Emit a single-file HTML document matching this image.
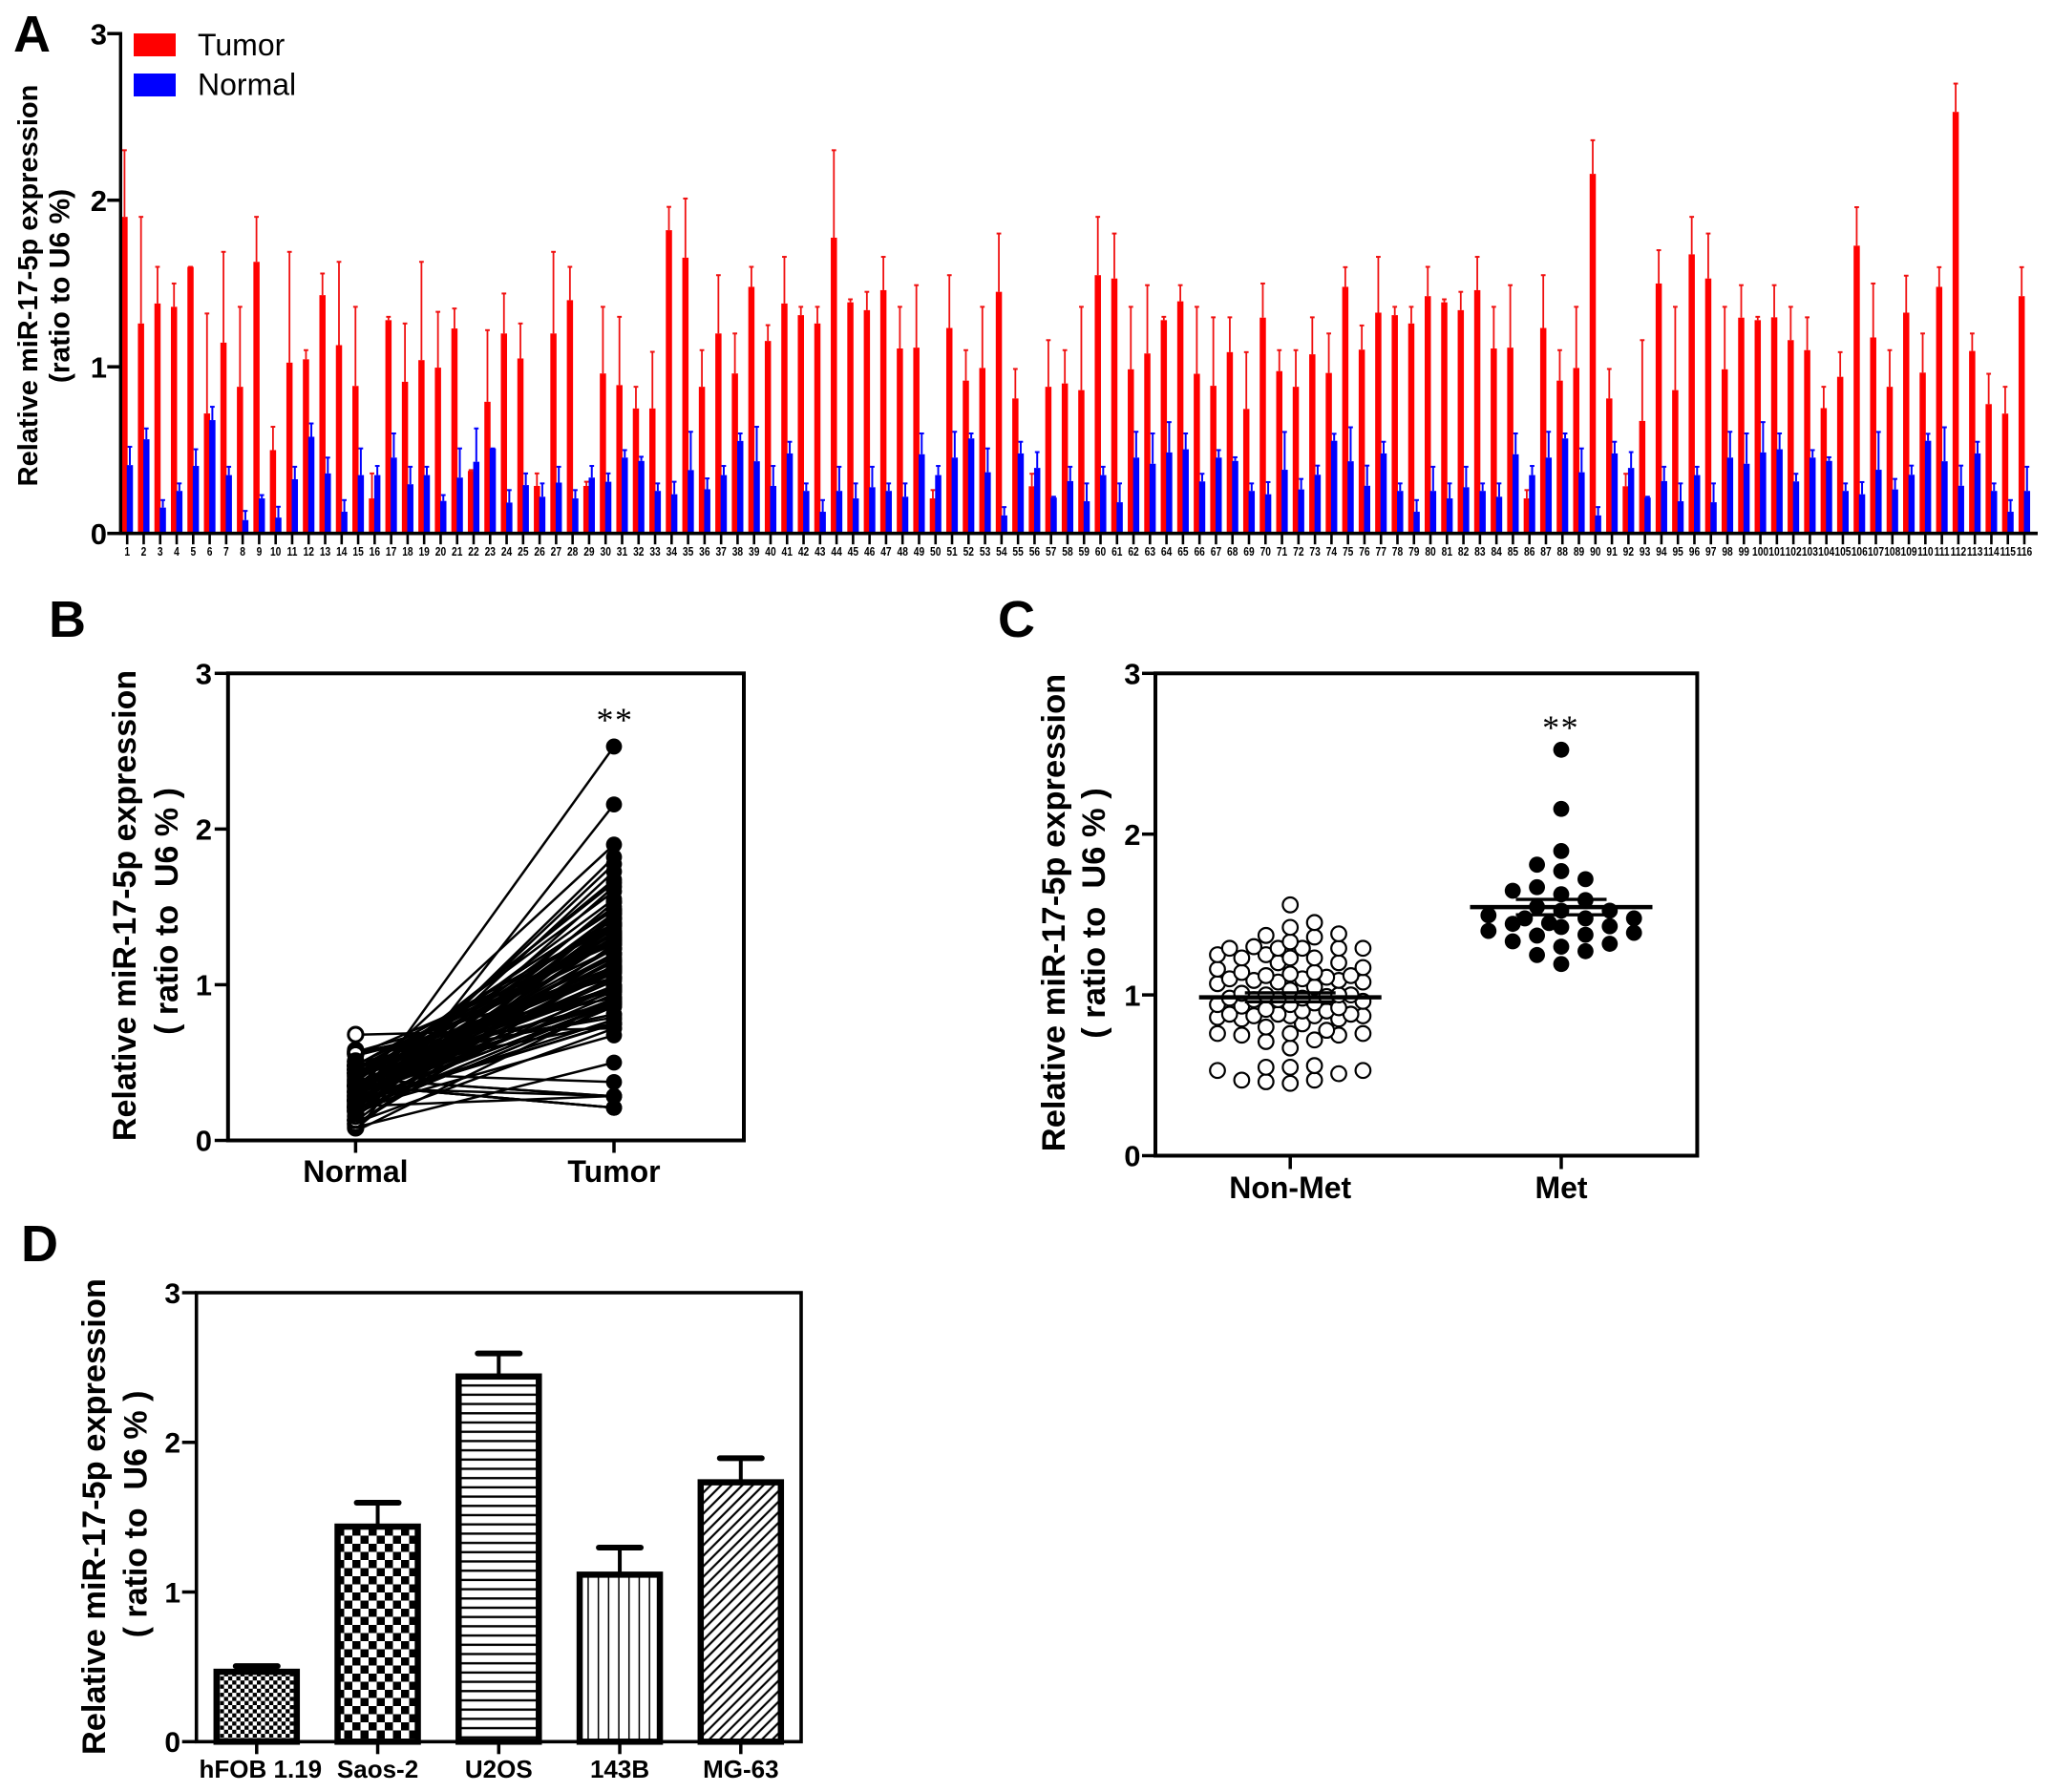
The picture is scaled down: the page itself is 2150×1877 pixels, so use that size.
<!DOCTYPE html>
<html lang="en">
<head>
<meta charset="utf-8">
<title>miR-17-5p expression</title>
<style>
html,body{margin:0;padding:0;background:#fff;width:2150px;height:1877px;overflow:hidden}
svg{display:block}
text{font-family:"Liberation Sans",sans-serif;fill:#000}
.b{font-weight:bold}
.panel{font-weight:bold;font-size:54px}
</style>
</head>
<body>
<svg id="fig" xmlns="http://www.w3.org/2000/svg" width="2150" height="1877" viewBox="0 0 2150 1877">
<defs>
<pattern id="pFine" patternUnits="userSpaceOnUse" x="226" y="1700" width="8.6" height="8.6"><rect width="8.6" height="8.6" fill="#fff"/><rect width="4.3" height="4.3" fill="#000"/><rect x="4.3" y="4.3" width="4.3" height="4.3" fill="#000"/></pattern>
<pattern id="pCheck" patternUnits="userSpaceOnUse" x="352" y="1600" width="17" height="17"><rect width="17" height="17" fill="#fff"/><rect width="8.5" height="8.5" fill="#000"/><rect x="8.5" y="8.5" width="8.5" height="8.5" fill="#000"/></pattern>
<pattern id="pHoriz" patternUnits="userSpaceOnUse" x="0" y="1447" width="10" height="9.7"><rect width="10" height="9.7" fill="#fff"/><rect y="3" width="10" height="2.4" fill="#000"/></pattern>
<pattern id="pVert" patternUnits="userSpaceOnUse" x="606" y="0" width="10.7" height="10"><rect width="10.7" height="10" fill="#fff"/><rect x="9.2" width="2.2" height="10" fill="#000"/></pattern>
<pattern id="pDiag" patternUnits="userSpaceOnUse" x="0" y="0" width="10" height="7.8" patternTransform="rotate(-45)"><rect width="10" height="7.8" fill="#fff"/><rect y="2.8" width="10" height="2.2" fill="#000"/></pattern>
</defs>

<rect width="2150" height="1877" fill="#fff"/>

<text class="panel" x="14" y="54">A</text>
<text class="panel" x="51" y="667">B</text>
<text class="panel" x="1045" y="667">C</text>
<text class="panel" x="22" y="1321">D</text>

<g id="panelA">
<text class="b" font-size="29" text-anchor="middle" transform="translate(39,299) rotate(-90)">Relative miR-17-5p expression</text>
<text class="b" font-size="30" text-anchor="middle" transform="translate(72.5,299.5) rotate(-90)">(ratio to U6 %)</text>
<rect x="140" y="35" width="44" height="24" fill="#ff0000"/>
<text x="207" y="58" font-size="32">Tumor</text>
<rect x="140" y="77" width="44" height="24" fill="#0000ff"/>
<text x="207" y="99.5" font-size="32">Normal</text>
</g>

<g id="panelB">
<text class="b" font-size="34" text-anchor="middle" transform="translate(142,948.5) rotate(-90)">Relative miR-17-5p expression</text>
<text class="b" font-size="34" text-anchor="middle" xml:space="preserve" style="white-space:pre" transform="translate(186,954.5) rotate(-90)">( ratio to  U6 % )</text>
</g>

<g id="panelC">
<text class="b" font-size="34.5" text-anchor="middle" transform="translate(1115,956) rotate(-90)">Relative miR-17-5p expression</text>
<text class="b" font-size="34.5" text-anchor="middle" xml:space="preserve" style="white-space:pre" transform="translate(1157,956.5) rotate(-90)">( ratio to  U6 % )</text>
</g>

<g id="panelD">
<text class="b" font-size="34.4" text-anchor="middle" transform="translate(110,1588.6) rotate(-90)">Relative miR-17-5p expression</text>
<text class="b" font-size="34" text-anchor="middle" xml:space="preserve" style="white-space:pre" transform="translate(153.6,1586) rotate(-90)">( ratio to  U6 % )</text>
</g>
</svg>

<script>
// ---------- Panel A / B data ----------
const tumorMean = [1.90,1.26,1.38,1.36,1.60,.72,1.145,.88,1.63,.50,1.025,1.045,1.43,1.13,.885,.21,1.28,.91,1.04,.995,1.23,.375,.79,1.20,1.05,.285,1.20,1.40,.285,.96,.89,.75,.75,1.82,1.655,
.88,1.20,.96,1.48,1.155,1.38,1.31,1.26,1.775,1.387,1.34,1.46,1.11,1.115,.21,1.233,.917,.993,1.45,.81,.283,.88,.90,.86,1.55,1.53,.985,1.08,1.28,1.393,.958,.886,1.088,.747,1.295,.974,.88,1.075,.963,1.48,1.103,
1.325,1.31,1.26,1.424,1.387,1.34,1.46,1.11,1.115,.21,1.233,.917,.993,2.158,.81,.283,.675,1.50,.86,1.675,1.53,.985,1.295,1.28,1.297,1.16,1.10,.752,.94,1.727,1.176,.88,1.325,.965,1.48,2.53,1.095,.776,.719,1.424];
const tumorUpper = [2.30,1.90,1.60,1.50,1.60,1.32,1.69,1.36,1.90,.64,1.69,1.10,1.56,1.63,1.36,.36,1.30,1.26,1.63,1.33,1.35,.38,1.22,1.44,1.26,.36,1.69,1.60,.31,1.36,1.30,.88,1.09,1.96,2.01,
1.10,1.55,1.20,1.60,1.25,1.66,1.36,1.36,2.30,1.405,1.45,1.66,1.36,1.49,.26,1.55,1.10,1.36,1.80,.987,.358,1.16,1.10,1.36,1.90,1.80,1.36,1.49,1.30,1.49,1.36,1.297,1.297,1.088,1.50,1.10,1.10,1.297,1.20,1.598,1.248,
1.66,1.36,1.36,1.60,1.405,1.45,1.66,1.36,1.49,.26,1.55,1.10,1.36,2.36,.987,.358,1.16,1.70,1.36,1.90,1.80,1.36,1.49,1.30,1.49,1.36,1.297,.88,1.088,1.958,1.50,1.10,1.547,1.20,1.598,2.70,1.20,.958,.88,1.598];
const normalMean = [.41,.565,.155,.255,.405,.68,.35,.08,.21,.095,.325,.58,.36,.13,.35,.35,.455,.295,.35,.195,.335,.43,.51,.185,.29,.22,.305,.21,.335,.31,.455,.435,.255,.235,.38,
.265,.35,.555,.433,.285,.48,.255,.13,.255,.21,.277,.255,.22,.475,.35,.455,.57,.367,.108,.48,.393,.215,.314,.193,.35,.187,.455,.418,.486,.505,.312,.455,.435,.255,.235,.382,.264,.352,.556,.433,.286,
.48,.255,.13,.255,.21,.277,.255,.22,.475,.35,.455,.57,.367,.108,.48,.393,.215,.314,.193,.35,.187,.455,.418,.486,.505,.312,.455,.435,.255,.235,.382,.264,.352,.556,.433,.286,.48,.255,.13,.255];
const normalUpper = [.52,.63,.20,.30,.505,.76,.40,.135,.23,.16,.40,.66,.455,.20,.51,.405,.60,.40,.40,.23,.51,.63,.51,.26,.36,.30,.40,.26,.405,.36,.50,.46,.30,.31,.61,
.33,.405,.60,.64,.405,.55,.30,.20,.40,.30,.40,.30,.30,.60,.405,.61,.60,.51,.158,.55,.488,.22,.40,.30,.40,.30,.61,.60,.668,.60,.358,.50,.457,.30,.308,.609,.327,.407,.598,.637,.407,
.55,.30,.20,.40,.30,.40,.30,.30,.60,.405,.61,.60,.51,.158,.55,.488,.22,.40,.30,.40,.30,.61,.60,.668,.60,.358,.50,.457,.30,.308,.609,.327,.407,.598,.637,.407,.55,.30,.20,.40];
const sampleLabels = Array.from({length: tumorMean.length}, function (_, i) { return String(i + 1); });
const yTicks = [0, 1, 2, 3];

// ---------- Panel B data ----------
const pairedCategories = ['Normal', 'Tumor'];

// ---------- Panel C data ----------
const metCategories = ['Non-Met', 'Met'];
const nonMetValues = [1.56,1.45,1.42,1.38,1.37,1.36,1.33,1.30,1.29,1.29,1.29,1.29,1.29,1.25,1.25,1.23,1.23,1.23,1.20,1.20,1.17,1.16,1.14,1.14,1.13,1.12,1.12,1.11,1.10,1.10,1.09,1.09,1.08,1.08,1.07,1.05,1.03,1.01,1.00,1.00,1.00,.99,.98,.98,.97,.97,.96,.95,.94,.94,.93,.92,.91,.90,.90,.88,.88,.88,.87,.87,.87,.87,.86,.85,.85,.82,.80,.78,.76,.76,.76,.75,.75,.72,.71,.67,.56,.55,.55,.53,.53,.51,.47,.47,.46,.45];
const metValues = [2.525,2.157,1.895,1.81,1.77,1.72,1.67,1.648,1.626,1.59,1.548,1.524,1.524,1.495,1.476,1.476,1.476,1.447,1.442,1.427,1.422,1.398,1.386,1.374,1.369,1.333,1.318,1.30,1.272,1.248,1.192];
const groupMeans = [0.985, 1.546];
const groupSems = [0.028, 0.048];

// ---------- Panel D data ----------
const cellLines = ['hFOB 1.19', 'Saos-2', 'U2OS', '143B', 'MG-63'];
const cellMeans = [0.467, 1.437, 2.44, 1.116, 1.733];
const cellUppers = [0.505, 1.597, 2.594, 1.297, 1.894];
const cellFills = ['pFine', 'pCheck', 'pHoriz', 'pVert', 'pDiag'];

const NS = 'http://www.w3.org/2000/svg';
function mk(tag, attrs, parent) {
  const el = document.createElementNS(NS, tag);
  for (const k in attrs) el.setAttribute(k, attrs[k]);
  parent.appendChild(el);
  return el;
}
function linear(v0, p0, v1, p1) {
  return function (v) { return p0 + (v - v0) * (p1 - p0) / (v1 - v0); };
}
function yAxisTicks(parent, yFn, xAxis, tickLen, anchorX, size, prefix) {
  yTicks.forEach(function (t) {
    const ln = mk('line', {x1: xAxis - tickLen, x2: xAxis, y1: yFn(t), y2: yFn(t), stroke: '#000', 'stroke-width': 3.5}, parent);
    
    
    const tx = mk('text', {x: anchorX, y: yFn(t) + size * 0.36, 'text-anchor': 'end', 'font-size': size, 'class': 'b'}, parent);
    
    
    tx.textContent = String(t);
  });
}
function frame(parent, x, y, w, h, sw, prefix) {
  const r = mk('rect', {x: x, y: y, width: w, height: h, fill: 'none', stroke: '#000', 'stroke-width': sw}, parent);
  
  
}
function xCategory(parent, label, x, yAxis, tickLen, baseline, size, prefix, labelShift) {
  const ln = mk('line', {x1: x, x2: x, y1: yAxis, y2: yAxis + tickLen, stroke: '#000', 'stroke-width': 3.5}, parent);
  
  
  const tx = mk('text', {x: x + (labelShift || 0), y: baseline, 'text-anchor': 'middle', 'font-size': size, 'class': 'b'}, parent);
  
  
  tx.textContent = label;
}
function stars(parent, x, y, prefix) {
  const s = mk('text', {x: x, y: y, 'text-anchor': 'middle', 'font-size': 36, 'letter-spacing': 1.5, style: 'font-family:"Liberation Serif",serif'}, parent);
  
  
  s.textContent = '**';
}

// ---------- Panel A ----------
(function () {
  const g = document.getElementById('panelA');
  const y = linear(0, 558.7, 3, 35.2);
  const x = linear(0, 133.2, 115, 2120);
  const off = 2.8, bw = 6.5;
  sampleLabels.forEach(function (label, i) {
    const cT = x(i) - off;
    const stemT = mk('line', {x1: cT, x2: cT, y1: y(tumorMean[i]), y2: y(tumorUpper[i]), stroke: '#f01010', 'stroke-width': 1.8}, g);
    
    
    const capT = mk('line', {x1: cT - 2.4, x2: cT + 2.4, y1: y(tumorUpper[i]), y2: y(tumorUpper[i]), stroke: '#f01010', 'stroke-width': 2}, g);
    
    
    const barT = mk('rect', {x: cT - bw / 2, y: y(tumorMean[i]), width: bw, height: y(0) - y(tumorMean[i]), fill: '#ff0000'}, g);
    
    
  });
  sampleLabels.forEach(function (label, i) {
    const cN = x(i) + off;
    const stemN = mk('line', {x1: cN, x2: cN, y1: y(normalMean[i]), y2: y(normalUpper[i]), stroke: '#0000ff', 'stroke-width': 2}, g);
    
    
    const capN = mk('line', {x1: cN - 2.4, x2: cN + 2.4, y1: y(normalUpper[i]), y2: y(normalUpper[i]), stroke: '#0000ff', 'stroke-width': 2}, g);
    
    
    const barN = mk('rect', {x: cN - bw / 2, y: y(normalMean[i]), width: bw, height: y(0) - y(normalMean[i]), fill: '#0000ff'}, g);
    
    

    const tick = mk('line', {x1: x(i), x2: x(i), y1: y(0), y2: y(0) + 11.5, stroke: '#000', 'stroke-width': 2.6}, g);
    
    
    const tl = mk('text', {'text-anchor': 'middle', 'font-size': 12.5, 'class': 'b', transform: 'translate(' + x(i) + ',582) scale(0.82,1)'}, g);
    
    
    tl.textContent = label;
  });
  const ya = mk('line', {x1: 126.3, x2: 126.3, y1: 33.5, y2: 560.5, stroke: '#000', 'stroke-width': 3.4}, g);
  
  
  const xa = mk('line', {x1: 124.6, x2: 2134, y1: 558.7, y2: 558.7, stroke: '#000', 'stroke-width': 3.6}, g);
  
  
  yAxisTicks(g, y, 126.3, 14, 112, 31, 'a');
})();

// ---------- Panel B ----------
(function () {
  const g = document.getElementById('panelB');
  const y = linear(0, 1194.5, 3, 705.3);
  const xN = 372.4, xT = 643;
  normalMean.forEach(function (v) {
    const c = mk('circle', {cx: xN, cy: y(v), r: 7.6, fill: 'none', stroke: '#000', 'stroke-width': 3}, g);
    
    
  });
  normalMean.forEach(function (v, i) {
    const l = mk('line', {x1: xN + 7, x2: xT, y1: y(v), y2: y(tumorMean[i]), stroke: '#000', 'stroke-width': 2.5}, g);
    
    
  });
  tumorMean.forEach(function (v) {
    const c = mk('circle', {cx: xT, cy: y(v), r: 8.4, fill: '#000'}, g);
    
    
  });
  frame(g, 238.8, 705.3, 540.2, 489.2, 4, 'b');
  yAxisTicks(g, y, 238.8, 14, 222, 31, 'b');
  xCategory(g, pairedCategories[0], xN, 1194.5, 13, 1238, 32, 'b');
  xCategory(g, pairedCategories[1], xT, 1194.5, 13, 1238, 32, 'b');
  stars(g, 644, 766, 'b');
})();

// ---------- Panel C ----------
function swarm(values, y, cx, step, minDist) {
  const sorted = values.slice().sort(function (a, b) { return a - b; });
  const placed = [];
  const order = [0, 2, -2, 4, -4, 6, -6, 1, -1, 3, -3, 5, -5];
  sorted.forEach(function (v, n) {
    const py = y(v);
    const flip = n % 2 ? -1 : 1;
    let chosen = null, best = null, bestGap = -1;
    for (let k = 0; k < order.length; k++) {
      const px = cx + flip * order[k] * step;
      let gap = Infinity;
      placed.forEach(function (p) {
        gap = Math.min(gap, Math.hypot(p.x - px, p.y - py));
      });
      if (gap > bestGap) { bestGap = gap; best = px; }
      if (gap >= minDist) { chosen = px; break; }
    }
    placed.push({x: chosen === null ? best : chosen, y: py});
  });
  return placed;
}
(function () {
  const g = document.getElementById('panelC');
  const y = linear(0, 1210.5, 3, 705.3);
  const xs = [1351.2, 1635];
  swarm(nonMetValues, y, xs[0], 12.7, 14.5).forEach(function (p) {
    const c = mk('circle', {cx: p.x, cy: p.y, r: 7.8, fill: '#fff', stroke: '#000', 'stroke-width': 2.2}, g);
    
    
  });
  swarm(metValues, y, xs[1], 12.7, 17).forEach(function (p) {
    const c = mk('circle', {cx: p.x, cy: p.y, r: 8.4, fill: '#000'}, g);
    
    
  });
  metCategories.forEach(function (label, i) {
    const m = mk('line', {x1: xs[i] - 95.5, x2: xs[i] + 95.5, y1: y(groupMeans[i]), y2: y(groupMeans[i]), stroke: '#000', 'stroke-width': 4.5}, g);
    
    
    [1, -1].forEach(function (sign) {
      const s = mk('line', {x1: xs[i] - 47.5, x2: xs[i] + 47.5, y1: y(groupMeans[i] + sign * groupSems[i]), y2: y(groupMeans[i] + sign * groupSems[i]), stroke: '#000', 'stroke-width': 3.4}, g);
      
      
    });
    xCategory(g, label, xs[i], 1210.5, 14, 1255, 32, 'c');
  });
  frame(g, 1210, 705.3, 567.4, 505.2, 4, 'c');
  yAxisTicks(g, y, 1210, 14, 1194.5, 31, 'c');
  stars(g, 1634.6, 774, 'c');
})();

// ---------- Panel D ----------
(function () {
  const g = document.getElementById('panelD');
  const y = linear(0, 1824.3, 3, 1354);
  const x = linear(0, 268.8, 4, 775.8);
  cellLines.forEach(function (label, i) {
    const stem = mk('line', {x1: x(i), x2: x(i), y1: y(cellMeans[i]), y2: y(cellUppers[i]), stroke: '#000', 'stroke-width': 4}, g);
    
    
    const cap = mk('line', {x1: x(i) - 22, x2: x(i) + 22, y1: y(cellUppers[i]), y2: y(cellUppers[i]), stroke: '#000', 'stroke-width': 6, 'stroke-linecap': 'round'}, g);
    
    
    const bar = mk('rect', {x: x(i) - 42, y: y(cellMeans[i]), width: 84, height: y(0) - y(cellMeans[i]), fill: 'url(#' + cellFills[i] + ')', stroke: '#000', 'stroke-width': 6.5}, g);
    
    
    xCategory(g, label, x(i), 1824.3, 13, 1862, 26, 'd', i === 0 ? 4 : 0);
  });
  frame(g, 205.7, 1354, 633.3, 470.3, 3.6, 'd');
  yAxisTicks(g, y, 205.7, 15, 189, 30, 'd');
})();
</script>
</body>
</html>
